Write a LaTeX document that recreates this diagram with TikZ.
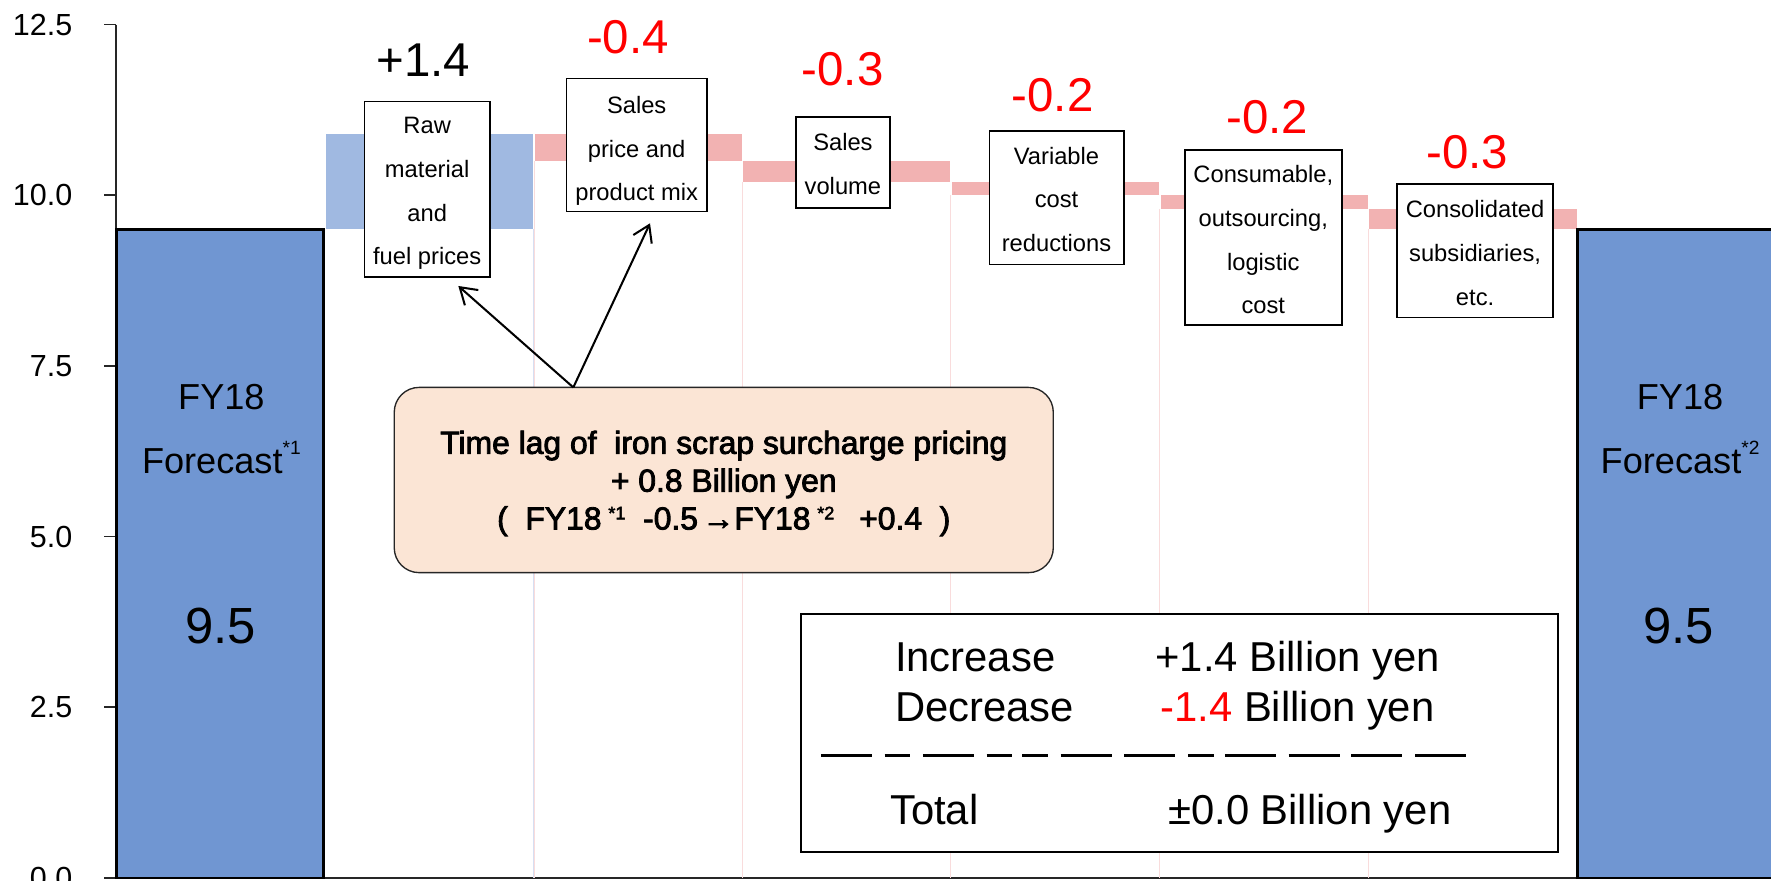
\documentclass[tikz,border=0pt]{standalone}
\usepackage{fontspec}
\setmainfont{Liberation Sans}
\newfontfamily\calloutfont{Liberation Sans}[FakeBold=2.6]
\usetikzlibrary{arrows.meta}

\definecolor{barblue}{RGB}{112,150,210}
\definecolor{incblue}{RGB}{160,185,225}
\definecolor{decpink}{RGB}{242,178,178}
\definecolor{notefill}{RGB}{251,229,213}
\definecolor{edgeblue}{RGB}{214,223,242}
\definecolor{edgepink}{RGB}{249,220,220}

\newcommand\fsz[2]{\fontsize{#1}{#2}\selectfont}
\newcommand\barnote[1]{\raisebox{8.5pt}{\fsz{8.5}{9}#1}}
\newcommand\calnote[1]{\raisebox{4.5pt}{\fsz{8}{8}#1}}

\begin{document}
\begin{tikzpicture}[x=0.5pt, y=-0.5pt,
  axisline/.style={draw=black!85, line width=0.7pt},
  ticklabel/.style={anchor=east, inner sep=0pt, font=\fsz{13.5}{16}},
  totalbar/.style={fill=barblue, draw=black, line width=1.1pt},
  incbar/.style={fill=incblue},
  decbar/.style={fill=decpink},
  blueedge/.style={draw=edgeblue, line width=0.4pt},
  pinkedge/.style={draw=edgepink, line width=0.4pt},
  bartext/.style={anchor=base, inner sep=0pt, font=\fsz{16}{18}},
  barvalue/.style={anchor=base, inner sep=0pt, font=\fsz{22.5}{24}},
  itembox/.style={draw=black, line width=0.7pt, fill=white, inner sep=0pt},
  itemtext/.style={align=center, inner sep=0pt, font=\fsz{10.5}{19.35}},
  delta/.style={anchor=base, inner sep=0pt, font=\fsz{21}{24}},
  callout/.style={draw=black!85, line width=0.6pt, fill=notefill,
    rounded corners=11pt, inner sep=0pt,
    minimum width=291.75pt, minimum height=82pt},
  callouttext/.style={align=center, inner sep=0pt,
    font={\calloutfont\fsz{14.1}{16.75}}},
  callarrow/.style={draw=black, line width=0.9pt,
    -{Straight Barb[length=7pt,width=9pt,line width=0.9pt]}},
  legendbox/.style={draw=black, line width=0.9pt, fill=white,
    minimum width=335pt, minimum height=105.2pt, inner sep=0pt},
  legtext/.style={anchor=base west, inner sep=0pt, font=\fsz{18.5}{20}},
  rule/.style={draw=black, line width=1.6pt}
]
\useasboundingbox (0,0) rectangle (1568,780);

% value axis
\draw[axisline] (102.7,21.7) -- (102.7,777.3);
\draw[axisline] (92.5,777.3) -- (1568,777.3);
\foreach \yy/\lab in {21.7/12.5, 172.8/10.0, 323.9/7.5, 475.1/5.0, 626.2/2.5, 777.3/0.0}{
  \draw[axisline] (92.5,\yy) -- (102.7,\yy);
  \node[ticklabel] at (64.4,\yy) {\lab};
}

% faint edges of the hidden base columns
\draw[blueedge] (471.9,203.0) -- (471.9,777.3);
\draw[pinkedge] (473.3,142.6) -- (473.3,777.3);
\draw[pinkedge] (657.1,160.7) -- (657.1,777.3);
\draw[pinkedge] (841.9,172.8) -- (841.9,777.3);
\draw[pinkedge] (1026.7,184.9) -- (1026.7,777.3);
\draw[pinkedge] (1211.5,203.0) -- (1211.5,777.3);

% floating steps of the waterfall
\fill[incbar] (288.4,118.4) rectangle (471.6,203.0);
\fill[decbar] (473.3,118.4) rectangle (656.6,142.6);
\fill[decbar] (658.1,142.6) rectangle (841.4,160.7);
\fill[decbar] (842.9,160.7) rectangle (1026.2,172.8);
\fill[decbar] (1027.7,172.8) rectangle (1211.0,184.9);
\fill[decbar] (1212.5,184.9) rectangle (1395.8,203.0);

% start and end totals
\draw[totalbar] (103.2,203.0) rectangle (286.3,777.3);
\draw[totalbar] (1396.5,203.0) rectangle (1590,777.3);
\node[bartext] (fyL) at (196,363) {FY18};
\node[bartext] (fcL) at (196,419) {Forecast\barnote{*1}};
\node[barvalue] (vL) at (195.5,569.6) {9.5};
\node[bartext] (fyR) at (1487.5,363) {FY18};
\node[bartext] (fcR) at (1487.5,419) {Forecast\barnote{*2}};
\node[barvalue] (vR) at (1486,569.6) {9.5};

% item labels
\node[itembox, minimum width=55.5pt, minimum height=77.5pt] (raw) at (378.2,167.5) {};
\node[itemtext, yshift=-2pt] (rawtext) at (raw) {Raw\\material\\and\\fuel prices};
\node[itembox, minimum width=62pt, minimum height=59pt] (price) at (563.7,128.4) {};
\node[itemtext, yshift=-2.7pt] (pricetext) at (price) {Sales\\price and\\product mix};
\node[itembox, minimum width=41.5pt, minimum height=40.5pt] (volume) at (746.3,143.9) {};
\node[itemtext, yshift=-0.8pt] (volumetext) at (volume) {Sales\\volume};
\node[itembox, minimum width=59.5pt, minimum height=59pt] (varcost) at (935.4,175) {};
\node[itemtext, yshift=-0.8pt] (varcosttext) at (varcost) {Variable\\cost\\reductions};
\node[itembox, minimum width=69.5pt, minimum height=77.5pt] (consum) at (1118.5,210.3) {};
\node[itemtext, yshift=-1pt] (consumtext) at (consum) {Consumable,\\outsourcing,\\logistic\\cost};
\node[itembox, minimum width=69pt, minimum height=59pt] (consol) at (1306,222) {};
\node[itemtext, yshift=-1.1pt] (consoltext) at (consol) {Consolidated\\subsidiaries,\\etc.};

% step amounts
\node[delta] (dRaw) at (375,68) {+1.4};
\node[delta, text=red] (dPrice) at (556,47) {-0.4};
\node[delta, text=red] (dVolume) at (746,76) {-0.3};
\node[delta, text=red] (dVar) at (932,98.9) {-0.2};
\node[delta, text=red] (dConsum) at (1122,118) {-0.2};
\node[delta, text=red] (dConsol) at (1299,149) {-0.3};

% surcharge note with its two pointers
\node[callout] (note) at (640.8,425) {};
\node[callouttext, yshift=-1.5pt] (notetext) at (note)
  {Time lag of\ \ iron scrap surcharge pricing\\
   + 0.8 Billion yen\\
   (\ \ FY18\hspace{3pt}\calnote{*1}\ \ -0.5\hspace{2pt}→FY18\hspace{3pt}\calnote{*2}\hspace{11pt}+0.4\ \ )};
\coordinate (apex) at (507.6,343);
\coordinate (rawtip) at (405.8,253.2);
\coordinate (pricetip) at (575.5,197.7);
\draw[callarrow] (apex) -- (rawtip);
\draw[callarrow] (apex) -- (pricetip);

% summary table
\node[legendbox] (legend) at (1044.5,648.8) {};
\node[legtext] (incL) at (792,594.7) {Increase};
\node[legtext] (incR) at (1022.6,594.7) {+1.4 Billion yen};
\node[legtext] (decL) at (792,639) {Decrease};
\node[legtext] (decR) at (1027,639) {\textcolor{red}{-1.4} Billion yen};
\foreach \xa/\xb in {726.7/771.9, 783.2/805.8, 817.1/862.2, 873.5/896.1,
    905.2/927.7, 939.0/984.2, 995.5/1040.7, 1052.0/1074.6, 1084.5/1129.7,
    1141.0/1186.1, 1196.5/1241.7, 1253.0/1298.2}{
  \draw[rule] (\xa,669) -- (\xb,669);
}
\node[legtext] (totL) at (787.7,730.4) {Total};
\node[legtext] (totR) at (1033.9,730.4) {±0.0 Billion yen};
\end{tikzpicture}
\end{document}
